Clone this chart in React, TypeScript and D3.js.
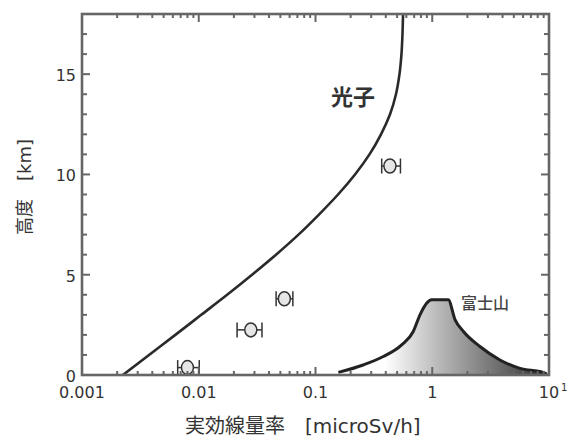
import React from 'react'
import * as d3 from 'd3'

// photon curve: altitude [km] vs dose rate [microSv/h]
const photonKm = [0, 1, 2, 3, 4, 5, 6, 7, 8, 9, 10, 11, 12, 13, 14, 15, 16, 17, 18]
const photonDose = [0.00224, 0.00375, 0.0063, 0.0105, 0.0175, 0.0286, 0.0459, 0.0715, 0.107, 0.156, 0.218, 0.29, 0.364, 0.435, 0.489, 0.524, 0.545, 0.556, 0.562]

// measured points with error bars
const measKm = [0.37, 2.25, 3.8, 10.42]
const measDose = [0.008, 0.0279, 0.0541, 0.434]
const measLo = [0.0066, 0.0213, 0.046, 0.369]
const measHi = [0.0101, 0.0348, 0.064, 0.534]

// Mt. Fuji silhouette
const fujiDose = [0.157, 0.256, 0.381, 0.547, 0.688, 0.785, 0.895, 0.988, 1.37, 1.57, 1.85, 2.56, 3.8, 5.65, 8.93, 9.6]
const fujiKm = [0.13, 0.5, 0.92, 1.5, 2.17, 3.0, 3.58, 3.75, 3.75, 2.75, 2.17, 1.42, 0.75, 0.33, 0.13, 0.05]

const xTickLabels = ['0.001', '0.01', '0.1', '1', '10']
const yTickLabels = [0, 5, 10, 15]

const W = 572
const H = 445
const left = 82
const right = 549
const top = 14
const bottom = 375

export default function App() {
  const x = d3.scaleLog().domain([0.001, 10]).range([left, right])
  const y = d3.scaleLinear().domain([0, 18]).range([bottom, top])

  const photon = photonKm.map((k, i) => ({ k, d: photonDose[i] }))
  const photonPath = d3
    .line<{ k: number; d: number }>()
    .x(p => x(p.d))
    .y(p => y(p.k))
    .curve(d3.curveMonotoneY)(photon)

  const fuji = fujiDose.map((d, i) => ({ d, k: fujiKm[i] }))
  const fujiArea = d3
    .area<{ k: number; d: number }>()
    .x(p => x(p.d))
    .y0(y(0))
    .y1(p => y(p.k))
    .curve(d3.curveMonotoneX)(fuji)
  const fujiLine = d3
    .line<{ k: number; d: number }>()
    .x(p => x(p.d))
    .y(p => y(p.k))
    .curve(d3.curveMonotoneX)(fuji)

  const xt = x.ticks()
  const isMajor = (v: number) => Math.abs(Math.log10(v) - Math.round(Math.log10(v))) < 1e-6
  const yt = d3.range(0, 19, 1)

  const axisCol = '#666'
  const textCol = '#333'
  const latin = '"DejaVu Sans", Verdana, sans-serif'
  const cjk = '"Noto Sans CJK JP", sans-serif'

  return (
    <svg width={W} height={H} style={{ position: 'absolute', left: 0, top: 0, background: '#fff' }}>
      <defs>
        <linearGradient id="fujiGrad" gradientUnits="userSpaceOnUse" x1={385} y1={0} x2={540} y2={0}>
          <stop offset="0" stopColor="#ffffff" />
          <stop offset="0.35" stopColor="#b8b8b8" />
          <stop offset="1" stopColor="#3a3a3a" />
        </linearGradient>
        <clipPath id="plot">
          <rect x={left} y={top} width={right - left} height={bottom - top} />
        </clipPath>
      </defs>

      <g clipPath="url(#plot)">
        <path d={fujiArea || ''} fill="url(#fujiGrad)" />
        <path d={fujiLine || ''} fill="none" stroke="#222" strokeWidth={3} strokeLinejoin="round" />
        <path d={photonPath || ''} fill="none" stroke="#2a2a2a" strokeWidth={2.6} />
      </g>

      {measKm.map((k, i) => {
        const cy = y(k)
        const x0 = x(measLo[i])
        const x1 = x(measHi[i])
        return (
          <g key={i} stroke="#333" strokeWidth={1.5}>
            <line x1={x0} x2={x1} y1={cy} y2={cy} />
            <line x1={x0} x2={x0} y1={cy - 7.5} y2={cy + 7.5} />
            <line x1={x1} x2={x1} y1={cy - 7.5} y2={cy + 7.5} />
            <ellipse cx={x(measDose[i])} cy={cy} rx={6} ry={7} fill="#e6e6e6" />
          </g>
        )
      })}

      {/* ticks */}
      <g stroke={axisCol} strokeWidth={2}>
        {xt.map((v, i) => {
          const len = isMajor(v) ? 8 : 4
          return (
            <g key={'x' + i}>
              <line x1={x(v)} x2={x(v)} y1={bottom} y2={bottom - len} />
              <line x1={x(v)} x2={x(v)} y1={top} y2={top + len} />
            </g>
          )
        })}
        {yt.map(v => {
          const len = v % 5 === 0 ? 8 : 5
          return (
            <g key={'y' + v}>
              <line x1={left} x2={left + len} y1={y(v)} y2={y(v)} />
              <line x1={right} x2={right - len} y1={y(v)} y2={y(v)} />
            </g>
          )
        })}
      </g>

      <rect x={left} y={top} width={right - left} height={bottom - top} fill="none" stroke={axisCol} strokeWidth={2.6} />

      {/* tick labels */}
      <g fontFamily={latin} fontSize={16} fill={textCol}>
        {xTickLabels.map(t => {
          const v = +t
          if (t === '10') {
            return (
              <g key={t}>
                <text x={x(v)} y={398} textAnchor="middle">10</text>
                <text x={x(v) + 12} y={391} fontSize={10}>1</text>
              </g>
            )
          }
          return (
            <text key={t} x={x(v)} y={398} textAnchor="middle">{t}</text>
          )
        })}
        {yTickLabels.map(v => (
          <text key={v} x={76} y={y(v) + 7} textAnchor="end">{v}</text>
        ))}
      </g>

      {/* annotations */}
      <text x={331} y={104.5} fontFamily={cjk} fontSize={22} fontWeight={600} fill={textCol}>光子</text>
      <text x={461} y={309} fontFamily={cjk} fontSize={16} fontWeight={500} fill="#444">富士山</text>

      {/* axis titles */}
      <text x={185} y={433} fontFamily={`${latin.split(',')[0]}, ${cjk}`} fontSize={20} fill={textCol}>
        <tspan fontFamily={cjk}>実効線量率　</tspan>
        <tspan>[microSv/h]</tspan>
      </text>
      <text
        transform={`translate(31, 187) rotate(-90)`}
        textAnchor="middle"
        fontSize={18}
        fill={textCol}
        fontFamily={`${latin.split(',')[0]}, ${cjk}`}
      >
        <tspan fontFamily={cjk}>高度　</tspan>
        <tspan>[km]</tspan>
      </text>
    </svg>
  )
}
